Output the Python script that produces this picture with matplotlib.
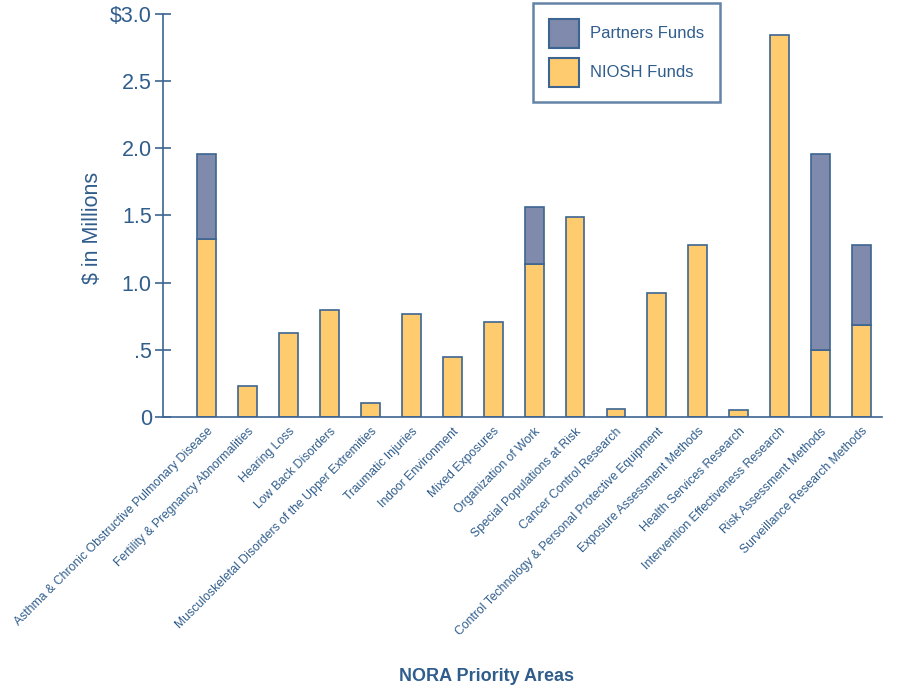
import matplotlib.pyplot as plt
from matplotlib.patches import Patch

plt.rcParams['font.family'] = ['Liberation Sans', 'DejaVu Sans']

# NORA priority areas and funding ($ millions)
areas = [
    "Asthma & Chronic Obstructive Pulmonary Disease",
    "Fertility & Pregnancy Abnormalities",
    "Hearing Loss",
    "Low Back Disorders",
    "Musculoskeletal Disorders of the Upper Extremities",
    "Traumatic Injuries",
    "Indoor Environment",
    "Mixed Exposures",
    "Organization of Work",
    "Special Populations at Risk",
    "Cancer Control Research",
    "Control Technology & Personal Protective Equipment",
    "Exposure Assessment Methods",
    "Health Services Research",
    "Intervention Effectiveness Research",
    "Risk Assessment Methods",
    "Surveillance Research Methods",
]
niosh = [1.325, 0.23, 0.625, 0.80, 0.105, 0.77, 0.45, 0.71, 1.14, 1.49,
         0.06, 0.92, 1.28, 0.05, 2.84, 0.50, 0.685]
partners = [0.63, 0, 0, 0, 0, 0, 0, 0, 0.42, 0,
            0, 0, 0, 0, 0, 1.46, 0.595]

yticks = [0, 0.5, 1.0, 1.5, 2.0, 2.5, 3.0]
ytick_labels = ["0", ".5", "1.0", "1.5", "2.0", "2.5", "$3.0"]

blue = "#2f5d8c"
edge = "#3d6591"
c_niosh = "#fecb6e"
c_part = "#7f8aac"

fig = plt.figure(figsize=(9, 6.86), dpi=100)
ax = fig.add_axes([0.181, 0.392, 0.799, 0.588])

x = list(range(len(areas)))
ax.bar(x, niosh, width=0.46, color=c_niosh, edgecolor=edge, linewidth=1.2)
part_x = [i for i in x if partners[i] > 0]
ax.bar(part_x, [partners[i] for i in part_x], bottom=[niosh[i] for i in part_x],
       width=0.46, color=c_part, edgecolor=edge, linewidth=1.2)

ax.set_xlim(-1.07, 16.5)
ax.set_ylim(0, 3.0)
ax.set_yticks(yticks)
ax.set_yticklabels(ytick_labels, fontsize=15.5, color=blue)
ax.tick_params(axis='y', direction='inout', length=12, width=1.2, color=edge, pad=2)
ax.set_xticks(x)
ax.set_xticklabels(areas, rotation=45, ha='right', rotation_mode='anchor',
                   fontsize=8.8, color=blue)
ax.tick_params(axis='x', length=0, pad=6)

for s in ['top', 'right']:
    ax.spines[s].set_visible(False)
for s in ['left', 'bottom']:
    ax.spines[s].set_color(edge)
    ax.spines[s].set_linewidth(1.2)

ax.set_ylabel("$ in Millions", fontsize=15.5, color=blue)
ax.yaxis.set_label_coords(-0.083, 0.47)

handles = [Patch(facecolor=c_part, edgecolor=edge, linewidth=1.5, label="Partners Funds"),
           Patch(facecolor=c_niosh, edgecolor=edge, linewidth=1.5, label="NIOSH Funds")]
leg = ax.legend(handles=handles, loc='upper left', bbox_to_anchor=(0.5146, 1.027),
                borderaxespad=0, fontsize=12, frameon=True, fancybox=False,
                handlelength=1.8, handleheight=2.3, borderpad=0.95, labelspacing=0.6,
                handletextpad=0.7, labelcolor=blue)
leg.get_frame().set_edgecolor(edge)
leg.get_frame().set_linewidth(1.8)

fig.text(0.54, 0.008, "NORA Priority Areas", fontsize=13, fontweight='bold',
         color=blue, ha='center')

fig.savefig("out.png", dpi=100)
